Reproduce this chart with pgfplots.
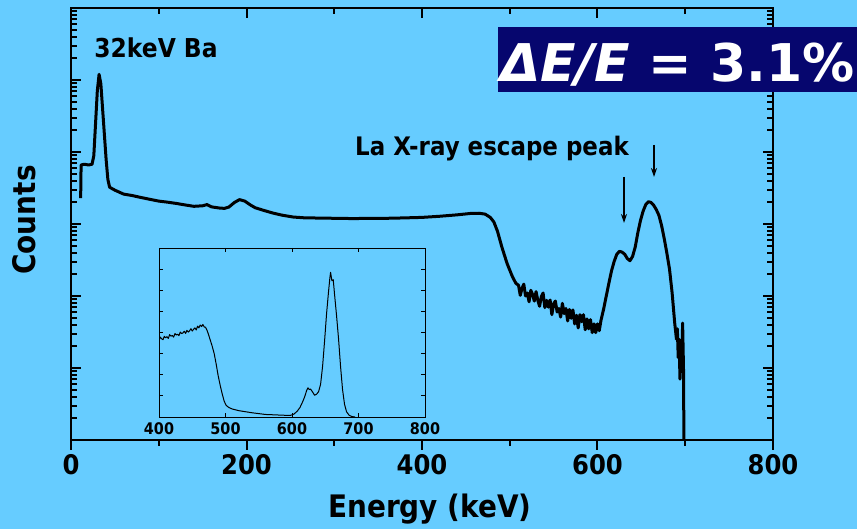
\documentclass[border=0pt]{standalone}
\usepackage{pgfplots}
\pgfplotsset{compat=1.18}
\usepackage{pgfplotstable}
\usepackage{fontspec}
\setmainfont{DejaVu Sans}
\newfontfamily\lab{DejaVu Sans}[FakeStretch=0.9]
\usetikzlibrary{arrows.meta}
\definecolor{bg}{RGB}{102,204,255}
\definecolor{navy}{RGB}{6,6,110}

\pgfplotstableread{
E C
11 2290
11.5 6600
15 6760
20 6600
24 6760
26 8900
28 25100
30 70800
32 120000
34 89100
36 39800
38 17800
40 7940
42 4170
44 3240
50 2950
60 2600
70 2480
80 2330
90 2200
100 2080
110 2010
120 1930
130 1840
140 1760
150 1790
155 1860
160 1730
170 1660
175 1650
180 1720
186 1980
192 2180
198 2080
205 1820
210 1680
220 1540
230 1420
240 1330
253 1250
265 1220
280 1210
300 1200
320 1190
340 1195
360 1200
380 1215
400 1235
420 1280
440 1340
455 1400
465 1410
472 1370
478 1230
482 1060
486 794
491 479
497 282
503 186
507 150
510 141
512 102
514 128
516 146
518 100
520 110
522 83
524 120
526 105
528 85
530 115
532 87
534 72
536 98
538 110
540 69
542 87
544 70
546 88
548 55
550 78
552 85
554 60
556 67
558 51
560 79
562 57
564 67
566 45
568 65
570 49
572 64
574 41
576 54
578 36
580 55
582 44
584 55
586 34
588 48
590 35
592 47
594 31
596 41
598 31
600 41
602 33
604 46
607 66
610 100
613 151
616 224
619 302
622 380
625 417
628 407
631 380
634 331
637 309
640 355
643 479
646 759
649 1120
652 1510
655 1860
658 2040
661 1995
664 1820
667 1585
670 1320
673 955
676 631
679 398
682 240
685 112
688 42
690 25
691 35
692 14
693 25
694 7
695 20
696 9
697 42
698 10
698.5 1
}\mainspec

\pgfplotstableread{
E V
400 3.62
402 3.78
404 3.70
406 3.66
408 3.82
410 3.75
412 3.80
414 3.72
416 3.90
418 3.83
420 3.86
422 3.78
424 3.95
426 3.88
428 3.92
430 3.85
432 4.02
434 3.95
436 3.98
438 4.06
440 3.96
442 4.10
444 4.02
446 4.08
448 4.18
450 4.07
452 4.15
454 4.22
456 4.12
458 4.30
460 4.22
462 4.35
464 4.28
466 4.38
468 4.26
470 4.25
472 4.12
474 3.95
477 3.65
480 3.35
483 3.00
486 2.50
489 1.95
492 1.50
495 1.10
498 0.75
501 0.55
505 0.45
510 0.38
520 0.30
530 0.25
540 0.20
550 0.16
560 0.12
575 0.10
590 0.08
598 0.08
603 0.14
608 0.28
612 0.45
616 0.72
619 0.95
622 1.25
624 1.38
626 1.30
628 1.32
631 1.18
634 1.03
637 1.08
640 1.20
643 1.55
646 2.40
649 3.60
652 4.90
655 5.95
657 6.60
658 6.85
660 6.45
662 6.50
664 5.80
667 4.80
670 3.70
673 2.40
676 1.30
679 0.60
682 0.25
686 0.08
690 0.02
695 0.0
}\insetspec

\begin{document}
\begin{tikzpicture}[x=1pt,y=1pt]
\clip (0,0) rectangle (857,529);
\fill[bg] (0,0) rectangle (857,529);

\begin{axis}[at={(71pt,89pt)}, anchor=south west, scale only axis,
  width=702pt, height=432pt,
  xmin=0, xmax=800, ymode=log, ymin=1, ymax=1e6,
  xtick={0,200,400,600,800}, minor xtick={100,300,500,700},
  xtick pos=right, xticklabel pos=left, ytick pos=both,
  yticklabels={},
  tick align=inside,
  axis line style={line width=2.5pt},
  tick style={line width=2pt, black},
  major tick length=10pt, minor tick length=6pt,
  xticklabel style={font=\lab\bfseries\fontsize{27}{27}\selectfont, yshift=-11pt},
  /pgf/number format/assume math mode=true]
\addplot[black, line width=3pt, line join=round] table[x=E, y=C] {\mainspec};
\end{axis}

\begin{axis}[at={(71pt,89pt)}, anchor=south west, scale only axis,
  width=702pt, height=432pt,
  xmin=0, xmax=800, ymin=0, ymax=1,
  axis x line*=bottom, axis y line=none, axis line style={draw=none},
  xtick={0,200,400,600,800}, minor xtick={100,300,500,700},
  xticklabels={}, tick align=outside,
  tick style={line width=2pt, black},
  major tick length=10pt, minor tick length=6pt]
\end{axis}

\begin{axis}[at={(159pt,112pt)}, anchor=south west, scale only axis,
  width=266pt, height=169pt,
  xmin=400, xmax=800, ymin=0, ymax=8,
  xtick={400,500,600,700,800}, ytick={0,1,2,3,4,5,6,7,8},
  yticklabels={}, tick align=inside, xtick pos=both, ytick pos=both,
  axis line style={line width=0.8pt}, tick style={line width=0.8pt, black},
  major tick length=4pt,
  xticklabel style={font=\lab\bfseries\fontsize{16}{16}\selectfont, inner sep=2pt, yshift=-3pt},
  /pgf/number format/assume math mode=true]
\addplot[black, line width=1pt, line join=round] table[x=E, y=V] {\insetspec};
\end{axis}

\node[font=\lab\bfseries\fontsize{31}{31}\selectfont] at (430,20) {Energy (keV)};
\node[font=\lab\bfseries\fontsize{31}{31}\selectfont, rotate=90] at (24,309) {Counts};
\node[font=\lab\bfseries\fontsize{26}{26}\selectfont] at (156,481) {32keV Ba};
\node[font=\lab\bfseries\fontsize{25.5}{25.5}\selectfont] at (492,380) {La X-ray escape peak};
\draw[line width=1.5pt, -{Stealth[length=9pt,width=6pt]}] (624,352) -- (624,306);
\draw[line width=1.5pt, -{Stealth[length=9pt,width=6pt]}] (654,384) -- (654,352);

\fill[navy] (498,437) rectangle (860,502);
\node[anchor=base west, inner sep=0pt, text=white, font=\bfseries\fontsize{52}{52}\selectfont] at (500,447) {\textit{ΔE/E} = 3.1\%};
\end{tikzpicture}
\end{document}
